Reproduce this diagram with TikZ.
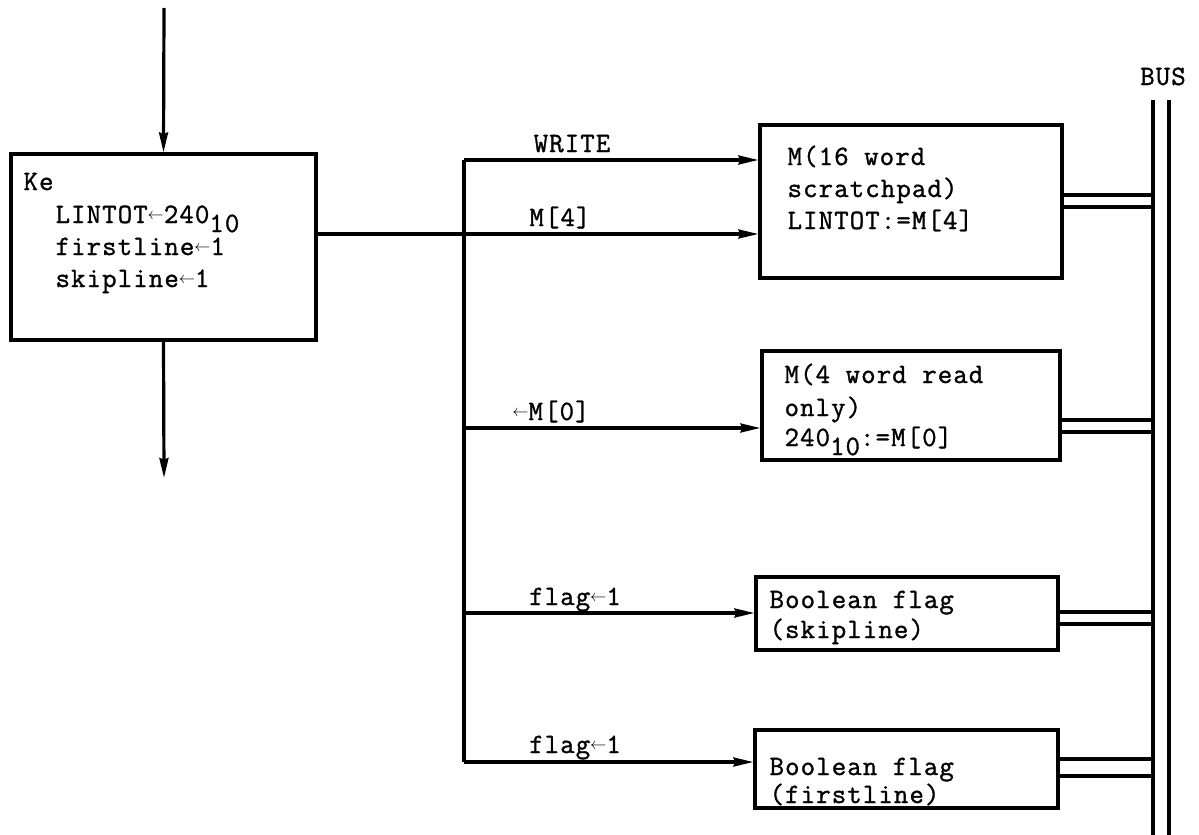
\documentclass[tikz,border=0pt]{standalone}
\usepackage{fontspec}
\setmonofont[LetterSpace=4.0,FakeBold=1.2]{Latin Modern Mono}
\usetikzlibrary{arrows.meta,calc}
\begin{document}
\begin{tikzpicture}[x=1pt,y=-1pt,
  line width=3.2pt,
  box/.style={draw,rectangle,inner sep=0pt,line width=3.2pt},
  txt/.style={anchor=base west,inner sep=0pt,font=\ttfamily\fontsize{28}{30}\selectfont},
  lbl/.style={anchor=base,inner sep=0pt,font=\ttfamily\fontsize{28}{30}\selectfont},
  arr/.style={-{Stealth[length=20pt,width=9pt,inset=2pt]}},
  bus/.style={line width=3.2pt}]
\useasboundingbox (0,0) rectangle (1199,835);
\newcommand{\lar}{\raisebox{4pt}{\scalebox{0.65}{$\leftarrow$}}}
\newcommand{\sub}[1]{\raisebox{-9pt}{#1}}
% boxes
\node[box,minimum width=305pt,minimum height=186pt] (Ke) at (163.5,247) {};
\node[box,minimum width=302pt,minimum height=153pt] (B1) at (911,201.5) {};
\node[box,minimum width=298pt,minimum height=109pt] (B2) at (911,405.5) {};
\node[box,minimum width=302pt,minimum height=73pt] (B3) at (907,613.5) {};
\node[box,minimum width=303pt,minimum height=78pt] (B4) at (906.5,769) {};
% box texts
\node[txt] (k1) at (22,190) {Ke};
\node[txt] (k2) at (54,223) {LINTOT\lar240\sub{10}};
\node[txt] (k3) at (54,255) {firstline\lar1};
\node[txt] (k4) at (54,287) {skipline\lar1};
\node[txt] (m1) at (786,165) {M(16 word};
\node[txt] (m2) at (786,197) {scratchpad)};
\node[txt] (m3) at (786,229) {LINTOT:=M[4]};
\node[txt] (r1) at (783,383) {M(4 word read};
\node[txt] (r2) at (783,416) {only)};
\node[txt] (r3) at (783,446) {240\sub{10}:=M[0]};
\node[txt] (s1) at (768,608) {Boolean flag};
\node[txt] (s2) at (768,638) {(skipline)};
\node[txt] (f1) at (768,775) {Boolean flag};
\node[txt] (f2) at (768,803) {(firstline)};
% labels
\node[lbl] (lw) at (572,152) {WRITE};
\node[lbl] (lm4) at (560,226) {M[4]};
\node[lbl] (lm0) at (551,420) {\lar M[0]};
\node[lbl] (lf1) at (575,605) {flag\lar1};
\node[lbl] (lf2) at (575,753) {flag\lar1};
\node[lbl] (lbus) at (1163,85) {BUS};
% coordinates
\coordinate (in) at (164,8);
\coordinate (out) at (164,478);
\coordinate (t1) at (464,160);
\coordinate (t2) at (464,234);
\coordinate (t3) at (464,428);
\coordinate (t4) at (464,613);
\coordinate (t5) at (464,762);
\coordinate (kr) at (316,234);
\coordinate (bl1) at (1153,100);
\coordinate (bl2) at (1153,835);
\coordinate (br1) at (1169,100);
\coordinate (br2) at (1169,835);
% main flow
\draw[arr] (in) -- (Ke.north);
\draw[arr] (Ke.south) -- (out);
\draw (kr) -- (t2);
\draw (t1) -- (t5);
\draw[arr] (t1) -- (t1 -| B1.west);
\draw[arr] (t2) -- (t2 -| B1.west);
\draw[arr] (t3) -- (t3 -| B2.west);
\draw[arr] (t4) -- (t4 -| B3.west);
\draw[arr] (t5) -- (t5 -| B4.west);
% bus
\draw[bus] (bl1) -- (bl2);
\draw[bus] (br1) -- (br2);
\coordinate (c1a) at (1062,195);
\coordinate (c1b) at (1062,207);
\coordinate (c2a) at (1060,420);
\coordinate (c2b) at (1060,432);
\coordinate (c3a) at (1058,612);
\coordinate (c3b) at (1058,624);
\coordinate (c4a) at (1058,759);
\coordinate (c4b) at (1058,776);
\foreach \c in {c1a,c1b,c2a,c2b,c3a,c3b,c4a,c4b}
  \draw (\c) -- (\c -| bl1);
\end{tikzpicture}
\end{document}
